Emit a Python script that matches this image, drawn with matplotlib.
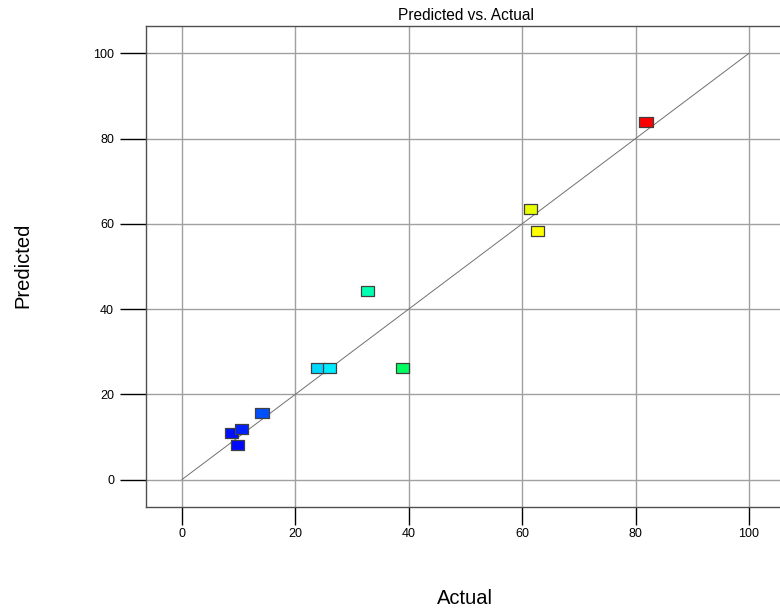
import matplotlib
matplotlib.use("Agg")
import matplotlib.pyplot as plt
from matplotlib.path import Path

plt.rcParams['font.family'] = ['Liberation Sans', 'DejaVu Sans']

# Observed vs. model-predicted responses
actual = [8.7, 9.8, 10.5, 14.1, 24.0, 26.0, 32.7, 38.9, 61.5, 62.7, 81.8]
predicted = [10.9, 8.2, 11.8, 15.7, 26.2, 26.2, 44.2, 26.2, 63.4, 58.3, 83.8]
colors = ['#0010ff', '#0008ff', '#0020ff', '#0050ff', '#00d8ff', '#00ecff',
          '#00ffb0', '#00ff60', '#e8ff00', '#ffff00', '#ff0000']
ticks = [0, 20, 40, 60, 80, 100]

fig = plt.figure(figsize=(7.8, 6.13), dpi=100)
W, H = 780, 613
left, right, top, bottom = 146, 785, 26, 507
ax = fig.add_axes([left / W, 1 - bottom / H, (right - left) / W, (bottom - top) / H])

ax.set_xlim(-6.35, 106.35)
ax.set_ylim(-6.45, 106.4)

for t in ticks:
    ax.axvline(t, color='#a0a0a0', lw=1.0, zorder=1)
    ax.axhline(t, color='#a0a0a0', lw=1.0, zorder=1)

# 1:1 reference line
ax.plot([0, 100], [0, 100], color='#707070', lw=0.7, zorder=2)

# Rectangular markers, wider than tall
rect = Path([(-0.67, -0.5), (0.67, -0.5), (0.67, 0.5), (-0.67, 0.5), (-0.67, -0.5)],
            [Path.MOVETO, Path.LINETO, Path.LINETO, Path.LINETO, Path.CLOSEPOLY])
ax.scatter(actual, predicted, marker=rect, s=94,
           c=colors, edgecolors='#404040', linewidths=0.9, zorder=4)

ax.set_xticks(ticks)
ax.set_yticks(ticks)
ax.tick_params(axis='both', direction='out', colors='black', labelsize=9)
ax.tick_params(axis='x', length=13, width=1, pad=2)
ax.tick_params(axis='y', length=19, width=1, pad=4)
for s in ax.spines.values():
    s.set_color('#505050')
    s.set_linewidth(1.0)
ax.spines['right'].set_visible(False)

ax.set_title('Predicted vs. Actual', fontsize=11.2, pad=4)
fig.text(465 / W, 1 - 598 / H, 'Actual', fontsize=14.5, ha='center', va='center')
fig.text(23 / W, 1 - 265 / H, 'Predicted', fontsize=14.5, ha='center', va='center', rotation=90)

fig.savefig('out.png', dpi=100)
